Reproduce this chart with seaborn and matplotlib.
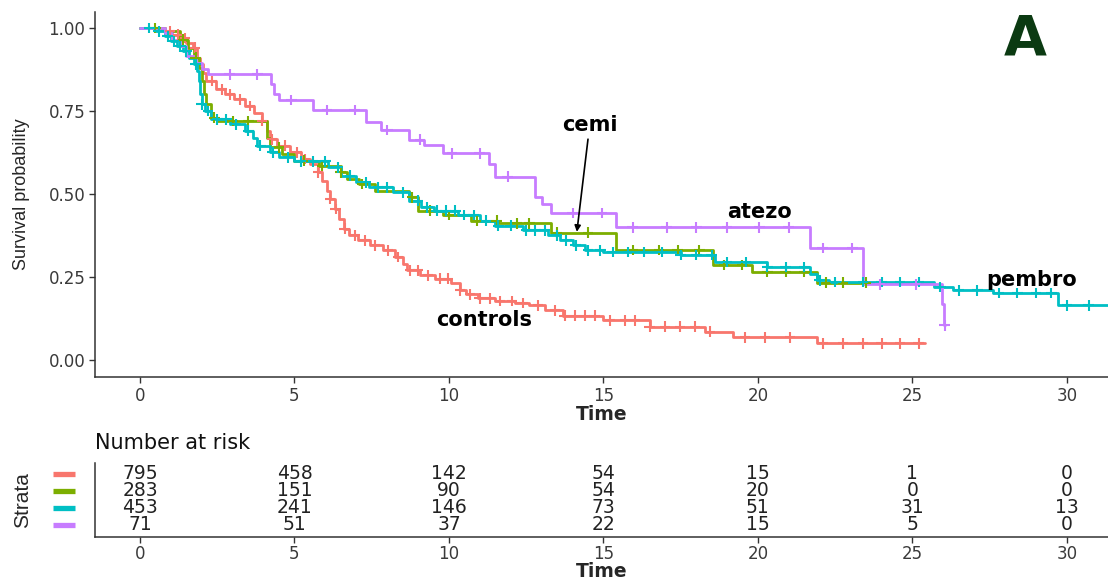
import numpy as np
import pandas as pd
import matplotlib
matplotlib.use("Agg")
import matplotlib.pyplot as plt
import matplotlib.transforms as mtransforms
import seaborn as sns

# ---- Kaplan-Meier step data (time in months, survival after each event) ----
groups = ["controls", "cemi", "pembro", "atezo"]
palette = {"controls": "#F8766D", "cemi": "#7CAE00", "pembro": "#00BFC4", "atezo": "#C77CFF"}

controls_time = [0, 0.8, 1.05, 1.3, 1.5, 1.7, 1.85, 1.95, 2.05, 2.15, 2.45, 2.75, 3.05, 3.4, 3.7,
                 3.95, 4.1, 4.2, 4.45, 4.85, 5.2, 5.5, 5.75, 5.9, 6.05, 6.15, 6.3, 6.45, 6.6, 6.75,
                 7.05, 7.45, 7.85, 8.25, 8.5, 8.65, 9.05, 9.55, 10.05, 10.35, 10.55, 10.95, 11.5,
                 12.15, 12.6, 13.1, 13.7, 15.0, 16.5, 18.3, 19.2, 21.9]
controls_surv = [1.0, 0.99, 0.98, 0.97, 0.955, 0.94, 0.91, 0.89, 0.865, 0.84, 0.815, 0.80, 0.785,
                 0.765, 0.745, 0.72, 0.69, 0.665, 0.645, 0.625, 0.605, 0.59, 0.565, 0.54, 0.51,
                 0.485, 0.455, 0.425, 0.395, 0.375, 0.36, 0.345, 0.33, 0.31, 0.29, 0.27, 0.255,
                 0.245, 0.232, 0.21, 0.198, 0.186, 0.178, 0.172, 0.165, 0.15, 0.133, 0.12, 0.10,
                 0.085, 0.068, 0.05]
controls_censor = [0.97, 1.23, 1.46, 1.78, 2.33, 2.65, 2.91, 3.24, 3.56, 3.95, 4.27, 4.69, 5.08,
                   5.34, 5.76, 6.15, 6.34, 6.63, 6.96, 7.28, 7.61, 8.03, 8.35, 8.74, 9.0, 9.32,
                   9.71, 9.97, 10.36, 10.68, 11.0, 11.33, 11.65, 12.04, 12.39, 12.88, 13.43,
                   13.75, 14.08, 14.4, 14.72, 15.21, 15.7, 16.02, 16.5, 16.99, 17.48, 17.96,
                   18.45, 19.58, 20.23, 21.04, 22.1, 22.75, 23.4, 24.0, 24.6, 25.2]
controls_end = 25.4

cemi_time = [0, 0.8, 1.3, 1.55, 1.75, 1.9, 2.0, 2.08, 2.15, 2.3, 2.5, 4.1, 4.2, 4.6, 5.0, 5.8,
             6.5, 6.7, 7.1, 7.6, 8.7, 9.0, 9.8, 10.7, 11.6, 13.3, 15.4, 18.55, 19.8, 21.9]
cemi_surv = [1.0, 0.99, 0.965, 0.94, 0.91, 0.88, 0.84, 0.80, 0.77, 0.73, 0.72, 0.67, 0.64, 0.62,
             0.60, 0.585, 0.565, 0.545, 0.53, 0.51, 0.49, 0.45, 0.437, 0.42, 0.412, 0.383,
             0.331, 0.286, 0.265, 0.233]
cemi_censor = [0.5, 1.4, 1.8, 2.4, 3.0, 3.5, 4.5, 5.3, 5.9, 6.5, 7.2, 8.8, 9.4, 10.0, 10.9,
               11.55, 12.2, 12.6, 13.5, 14.5, 15.95, 16.8, 17.4, 18.1, 18.9, 19.5, 20.3, 20.9,
               21.5, 22.2, 22.75, 23.5]
cemi_end = 23.9

pembro_time = [0, 0.5, 0.8, 1.0, 1.2, 1.4, 1.6, 1.75, 1.85, 1.9, 1.95, 2.0, 2.1, 2.3, 2.9, 3.4,
               3.65, 3.8, 4.2, 4.5, 5.0, 6.1, 6.5, 7.0, 7.4, 8.2, 8.7, 9.1, 9.5, 10.3, 11.0, 11.5,
               12.4, 13.2, 13.6, 14.0, 14.4, 15.0, 17.5, 18.6, 20.3, 21.7, 21.9, 22.3, 25.7,
               26.3, 27.6, 29.7]
pembro_surv = [1.0, 0.99, 0.975, 0.96, 0.945, 0.93, 0.91, 0.89, 0.87, 0.84, 0.80, 0.77, 0.75,
               0.725, 0.71, 0.69, 0.67, 0.645, 0.625, 0.61, 0.598, 0.58, 0.555, 0.535, 0.52,
               0.505, 0.48, 0.46, 0.45, 0.437, 0.42, 0.405, 0.39, 0.375, 0.36, 0.345, 0.33,
               0.325, 0.316, 0.295, 0.28, 0.26, 0.24, 0.235, 0.22, 0.21, 0.202, 0.165]
pembro_censor = [0.3, 0.6, 0.9, 1.1, 1.3, 1.5, 1.8, 2.0, 2.2, 2.5, 2.8, 3.1, 3.5, 3.9, 4.3, 4.8,
                 5.2, 5.6, 6.0, 6.4, 6.8, 7.3, 7.7, 8.0, 8.5, 9.0, 9.3, 9.6, 9.9, 10.2, 10.5,
                 10.8, 11.2, 11.6, 12.0, 12.5, 12.8, 13.1, 13.5, 13.8, 14.1, 14.5, 14.9, 15.3,
                 15.8, 16.3, 16.9, 17.5, 18.0, 18.5, 19.0, 19.6, 20.3, 20.9, 21.5, 22.0, 22.5,
                 23.4, 24.0, 24.6, 25.2, 25.9, 26.5, 27.1, 27.8, 28.4, 29.0, 29.5, 30.0, 30.7]
pembro_end = 31.5

atezo_time = [0, 0.8, 1.05, 1.3, 1.5, 1.8, 2.0, 2.2, 4.25, 4.35, 4.5, 5.6, 7.3, 7.8, 8.7, 9.2,
              9.8, 11.3, 11.5, 12.8, 13.0, 13.3, 15.4, 21.7, 23.4, 25.95, 26.02]
atezo_surv = [1.0, 0.985, 0.965, 0.945, 0.915, 0.895, 0.875, 0.86, 0.83, 0.80, 0.783, 0.753,
              0.717, 0.693, 0.663, 0.648, 0.623, 0.59, 0.552, 0.49, 0.47, 0.443, 0.40, 0.337,
              0.228, 0.17, 0.105]
atezo_censor = [2.9, 3.8, 4.9, 6.05, 6.95, 8.0, 9.06, 10.1, 11.0, 11.9, 14.0, 14.95, 15.95,
                17.05, 18.0, 19.0, 20.05, 21.0, 22.1, 23.05, 23.95, 25.1, 26.05]
atezo_end = 26.05

# ---- Number at risk table ----
risk_times = [0, 5, 10, 15, 20, 25, 30]
risk_controls = [795, 458, 142, 54, 15, 1, 0]
risk_cemi = [283, 151, 90, 54, 20, 0, 0]
risk_pembro = [453, 241, 146, 73, 51, 31, 13]
risk_atezo = [71, 51, 37, 22, 15, 5, 0]

curves = {
    "controls": (controls_time, controls_surv, controls_censor, controls_end, risk_controls),
    "cemi": (cemi_time, cemi_surv, cemi_censor, cemi_end, risk_cemi),
    "pembro": (pembro_time, pembro_surv, pembro_censor, pembro_end, risk_pembro),
    "atezo": (atezo_time, atezo_surv, atezo_censor, atezo_end, risk_atezo),
}

line_rows, cens_rows = [], []
for g in groups:
    t, s, c, end, _ = curves[g]
    t = np.asarray(t, float)
    s = np.asarray(s, float)
    for ti, si in zip(t, s):
        line_rows.append((g, ti, si))
    line_rows.append((g, end, s[-1]))
    for ci in c:
        idx = np.searchsorted(t, ci, side="right") - 1
        cens_rows.append((g, ci, s[idx]))
lines_df = pd.DataFrame(line_rows, columns=["group", "time", "surv"])
cens_df = pd.DataFrame(cens_rows, columns=["group", "time", "surv"])

sns.set_theme(style="white")
plt.rcParams["font.family"] = ["DejaVu Sans"]
axis_col = "#333333"
tick_col = "#3A3A3A"

fig = plt.figure(figsize=(11.08, 5.81), dpi=100)
fig.patch.set_facecolor("white")

W, H = 1108, 581
def frac_box(x0, y0, x1, y1):
    return [x0 / W, 1 - y1 / H, (x1 - x0) / W, (y1 - y0) / H]

ax = fig.add_axes(frac_box(95, 12, 1108, 377))
tab = fig.add_axes(frac_box(95, 463, 1108, 537))

xlim = (-1.456, 31.33)

# ---- survival curves ----
sns.lineplot(data=lines_df, x="time", y="surv", hue="group", hue_order=groups,
             palette=palette, estimator=None, sort=False, drawstyle="steps-post",
             linewidth=2.0, legend=False, ax=ax)
sns.scatterplot(data=cens_df, x="time", y="surv", hue="group", hue_order=groups,
                palette=palette, marker="+", s=60, linewidth=1.5, legend=False, ax=ax,
                zorder=3)

ax.set_xlim(*xlim)
ax.set_ylim(-0.0512, 1.048)
ax.set_xticks(risk_times)
ax.set_yticks([0, 0.25, 0.5, 0.75, 1.0])
ax.set_yticklabels(["0.00", "0.25", "0.50", "0.75", "1.00"])
for sp in ["top", "right"]:
    ax.spines[sp].set_visible(False)
for sp in ["left", "bottom"]:
    ax.spines[sp].set_color(axis_col)
    ax.spines[sp].set_linewidth(1.1)
ax.tick_params(direction="out", length=4, width=1.0, color=axis_col, labelcolor=tick_col,
               labelsize=12, pad=3, bottom=True, left=True)
ax.set_xlabel("Time", fontsize=13.5, fontweight="bold", labelpad=0)
ax.set_ylabel("Survival probability", fontsize=13, family=["Liberation Sans"])
ax.yaxis.set_label_coords(-0.064, 0.5)

# curve labels
lab_kw = dict(fontsize=15, fontweight="bold", ha="center", va="center", color="black")
ax.text(14.56, 0.708, "cemi", **lab_kw)
ax.text(20.06, 0.446, "atezo", **lab_kw)
ax.text(28.87, 0.241, "pembro", **lab_kw)
ax.text(11.13, 0.12, "controls", **lab_kw)
ax.annotate("", xy=(14.14, 0.386), xytext=(14.5, 0.665),
            arrowprops=dict(arrowstyle="-|>", lw=1.2, color="black", mutation_scale=9,
                            shrinkA=0, shrinkB=0))
ax.text(28.64, 0.965, "A", fontsize=40, fontweight="bold", ha="center", va="center",
        color="#0B3A12")

# ---- risk table ----
row_y = {"controls": 4, "cemi": 3, "pembro": 2, "atezo": 1}
tab.set_xlim(*xlim)
tab.set_ylim(0.294, 4.647)
for g in groups:
    _, _, _, _, counts = curves[g]
    for tx, n in zip(risk_times, counts):
        tab.text(tx, row_y[g], str(n), ha="center", va="center", fontsize=13.5, color="#222222")
blend = mtransforms.blended_transform_factory(tab.transAxes, tab.transData)
for g in groups:
    tab.plot([-0.0415, -0.0197], [row_y[g], row_y[g]], color=palette[g], lw=3.8,
             solid_capstyle="butt", transform=blend, clip_on=False)
tab.set_xticks(risk_times)
tab.set_yticks([])
for sp in ["top", "right"]:
    tab.spines[sp].set_visible(False)
for sp in ["left", "bottom"]:
    tab.spines[sp].set_color(axis_col)
    tab.spines[sp].set_linewidth(1.1)
tab.tick_params(axis="x", direction="out", length=4, width=1.0, color=axis_col,
                labelcolor=tick_col, labelsize=12, pad=2, bottom=True)
tab.set_xlabel("Time", fontsize=13.5, fontweight="bold", labelpad=-1)
tab.set_ylabel("Strata", fontsize=15, family=["Liberation Sans"])
tab.yaxis.set_label_coords(-0.062, 0.5)
fig.text(95 / W, 1 - 443 / H, "Number at risk", fontsize=15, ha="left", va="center",
         color="#111111")

fig.savefig("out.png", dpi=100, facecolor="white")
